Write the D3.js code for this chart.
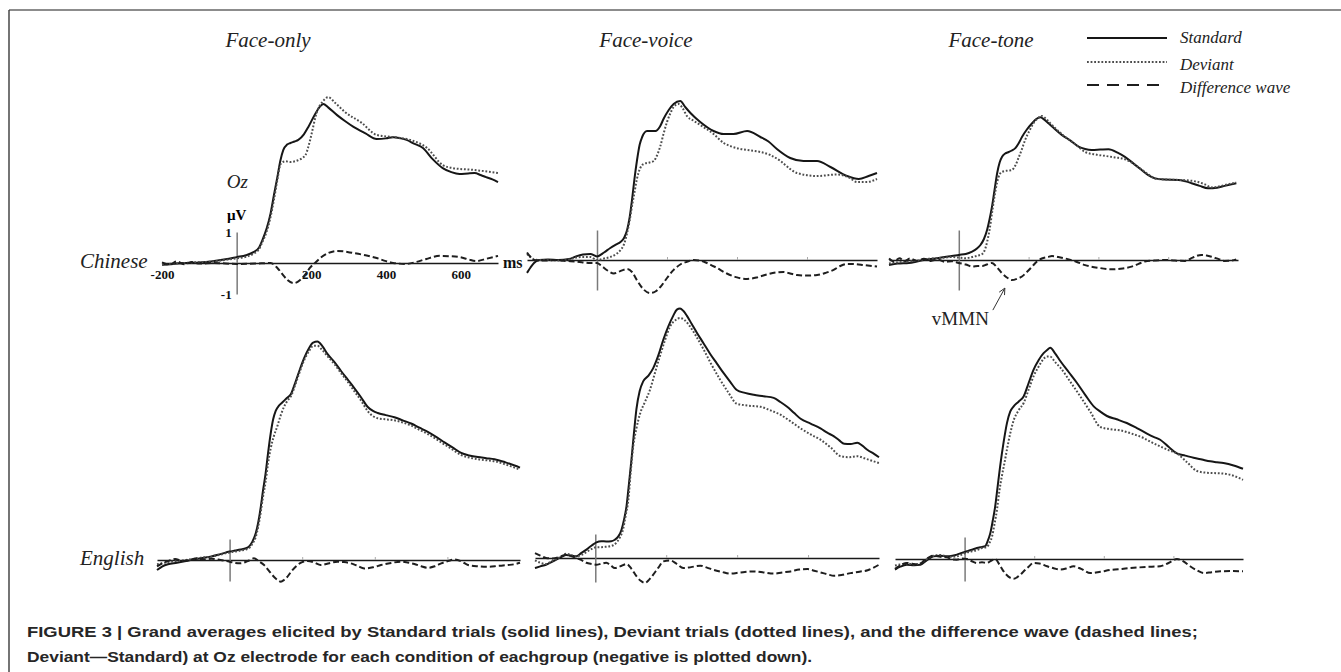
<!DOCTYPE html>
<html><head><meta charset="utf-8">
<script src="https://cdn.jsdelivr.net/npm/d3@7"></script>
<style>body{margin:0;background:#fff}svg{display:block}</style>
</head><body>
<script>
// ---------------- DATA ----------------
const groups = ["Chinese", "English"];
const conditions = ["Face-only", "Face-voice", "Face-tone"];
const seriesNames = ["Standard", "Deviant", "Difference wave"];
const xTickLabels = [-200, 200, 400, 600];
const yTickLabels = [1, -1];
const timeRanges = [[-200,700],[-200,800],[-200,800],[-200,800],[-170,800],[-200,800]];

// Chinese / Face-only  [ms, µV]
const chFaceOnlyStd = [[-200,-0.06],[-170,-0.03],[-140,0.0],[-100,0.02],[-69,0.05],[-30,0.12],[0,0.19],[25,0.25],[45,0.35],[60,0.5],[69,0.74],[80,1.1],[91,1.61],[100,2.2],[109,2.77],[117,3.3],[125,3.65],[135,3.82],[144,3.87],[155,3.92],[165,3.97],[180,4.15],[192,4.39],[210,4.8],[224,5.06],[232,5.13],[245,5.02],[269,4.77],[290,4.58],[313,4.39],[345,4.18],[375,4.0],[400,4.02],[419,4.06],[440,4.02],[455,3.97],[475,3.85],[499,3.71],[525,3.35],[552,3.06],[575,2.93],[597,2.87],[620,2.89],[637,2.9],[655,2.83],[668,2.77],[685,2.7],[700,2.61]];
const chFaceOnlyDev = [[-200,-0.06],[-170,-0.02],[-140,0.0],[-100,0.03],[-69,0.04],[-30,0.1],[0,0.15],[25,0.2],[45,0.3],[60,0.45],[69,0.68],[80,1.0],[91,1.5],[100,2.05],[109,2.68],[118,3.2],[130,3.28],[144,3.26],[165,3.32],[184,3.48],[192,3.75],[200,4.13],[214,4.84],[230,5.2],[245,5.35],[265,5.15],[290,4.87],[335,4.52],[375,4.13],[420,4.06],[465,3.97],[510,3.71],[552,3.16],[580,3.06],[637,3.0],[700,2.9]];
const chFaceOnlyDiff = [[-200,0.02],[-180,-0.05],[-160,0.05],[-140,-0.04],[-120,0.03],[-100,-0.02],[-60,0.0],[0,-0.03],[50,-0.02],[91,0.0],[109,-0.16],[125,-0.4],[136,-0.55],[153,-0.65],[170,-0.55],[185,-0.35],[196,-0.16],[210,0.0],[224,0.16],[245,0.32],[269,0.39],[313,0.32],[345,0.25],[375,0.16],[400,0.06],[419,0.0],[455,-0.03],[480,0.03],[508,0.13],[544,0.23],[570,0.22],[597,0.19],[620,0.12],[641,0.06],[670,0.14],[700,0.23]];

// Chinese / Face-voice
const chFaceVoiceStd = [[-200,-0.43],[-190,-0.25],[-180,-0.1],[-165,0.0],[-140,0.02],[-110,0.0],[-80,0.03],[-60,0.12],[-40,0.18],[-19,0.2],[0,0.12],[20,0.25],[38,0.4],[55,0.52],[67,0.6],[78,0.75],[86,1.0],[93,1.4],[100,2.0],[107,2.7],[114,3.3],[122,3.85],[129,4.1],[143,4.3],[167,4.3],[180,4.45],[190,4.7],[205,5.0],[219,5.2],[238,5.3],[252,5.1],[267,4.9],[295,4.6],[333,4.3],[362,4.2],[390,4.2],[429,4.3],[467,4.1],[490,3.95],[514,3.7],[552,3.4],[590,3.3],[629,3.3],[667,3.1],[714,2.8],[748,2.7],[776,2.8],[800,2.9]];
const chFaceVoiceDev = [[-200,0.2],[-190,0.1],[-180,0.02],[-165,0.0],[-140,0.0],[-110,-0.02],[-80,0.02],[-60,0.08],[-40,0.1],[-19,0.1],[0,0.0],[20,0.05],[38,0.1],[55,0.2],[67,0.33],[78,0.55],[86,0.9],[93,1.3],[100,1.8],[107,2.25],[114,2.7],[123,3.05],[133,3.2],[150,3.25],[162,3.3],[172,3.5],[181,3.8],[190,4.2],[200,4.6],[210,4.9],[219,5.1],[233,5.2],[245,5.05],[257,4.8],[275,4.65],[295,4.5],[333,4.2],[362,3.9],[385,3.78],[410,3.7],[440,3.65],[467,3.6],[495,3.5],[524,3.3],[550,3.05],[571,2.9],[629,2.8],[686,2.85],[720,2.75],[743,2.6],[771,2.6],[800,2.7]];
const chFaceVoiceDiff = [[-200,0.25],[-190,0.1],[-180,0.0],[-150,-0.02],[-120,0.0],[-90,-0.03],[-60,-0.05],[-19,-0.1],[0,-0.1],[10,-0.17],[30,-0.35],[48,-0.45],[65,-0.38],[86,-0.3],[100,-0.4],[114,-0.67],[133,-0.98],[152,-1.1],[167,-1.05],[181,-0.9],[200,-0.6],[219,-0.33],[238,-0.15],[257,-0.06],[276,0.0],[295,-0.02],[314,-0.1],[340,-0.25],[371,-0.45],[400,-0.58],[429,-0.63],[457,-0.58],[486,-0.48],[510,-0.42],[533,-0.4],[552,-0.45],[571,-0.5],[600,-0.52],[629,-0.5],[655,-0.42],[676,-0.33],[695,-0.2],[714,-0.13],[740,-0.14],[762,-0.17],[800,-0.22]];

// Chinese / Face-tone
const chFaceToneStd = [[-200,-0.17],[-175,-0.12],[-143,-0.1],[-120,-0.05],[-100,0.0],[-67,0.05],[-40,0.1],[-20,0.13],[0,0.17],[20,0.2],[38,0.28],[52,0.38],[62,0.5],[72,0.7],[81,1.0],[88,1.35],[95,1.77],[102,2.3],[110,2.9],[117,3.25],[124,3.44],[133,3.55],[143,3.6],[152,3.65],[162,3.73],[172,3.9],[181,4.1],[195,4.35],[210,4.56],[222,4.7],[233,4.76],[245,4.68],[257,4.56],[275,4.37],[295,4.17],[320,3.98],[343,3.78],[362,3.7],[381,3.67],[405,3.68],[429,3.69],[455,3.58],[476,3.44],[500,3.22],[524,3.0],[543,2.83],[562,2.72],[590,2.68],[629,2.67],[650,2.62],[667,2.56],[690,2.47],[714,2.39],[740,2.41],[762,2.47],[795,2.56]];
const chFaceToneDev = [[-200,-0.12],[-175,-0.08],[-143,-0.05],[-120,-0.02],[-100,0.02],[-67,0.06],[-40,0.08],[-20,0.1],[0,0.08],[20,0.06],[38,0.1],[55,0.15],[67,0.2],[75,0.35],[81,0.6],[88,1.0],[95,1.55],[102,2.1],[110,2.6],[117,2.85],[124,2.94],[140,2.98],[152,3.0],[162,3.15],[171,3.4],[181,3.7],[190,4.0],[202,4.3],[214,4.56],[226,4.72],[238,4.8],[252,4.68],[267,4.5],[285,4.3],[305,4.1],[335,3.85],[362,3.6],[390,3.52],[419,3.47],[448,3.42],[476,3.36],[495,3.25],[514,3.1],[540,2.88],[562,2.72],[595,2.68],[629,2.67],[660,2.65],[686,2.6],[705,2.52],[724,2.42],[745,2.45],[762,2.5],[795,2.58]];
const chFaceToneDiff = [[-200,0.05],[-185,-0.05],[-170,0.06],[-155,-0.04],[-140,0.05],[-120,-0.03],[-100,0.04],[-80,-0.03],[-60,0.02],[-40,-0.06],[-20,-0.04],[0,-0.1],[20,-0.15],[38,-0.22],[55,-0.2],[67,-0.2],[80,-0.15],[95,-0.1],[110,-0.25],[124,-0.44],[140,-0.6],[152,-0.67],[168,-0.62],[181,-0.55],[195,-0.4],[210,-0.22],[224,-0.05],[238,0.05],[255,0.1],[267,0.13],[285,0.1],[305,0.05],[335,-0.05],[362,-0.17],[400,-0.26],[438,-0.31],[470,-0.28],[495,-0.22],[515,-0.13],[533,-0.05],[560,-0.02],[590,0.0],[620,-0.02],[648,-0.03],[670,0.08],[695,0.17],[710,0.15],[724,0.11],[745,0.03],[762,-0.03],[780,-0.02],[795,0.02]];

// English / Face-only
const enFaceOnlyStd = [[-200,-0.48],[-185,-0.3],[-170,-0.2],[-145,-0.13],[-120,-0.05],[-99,0.03],[-75,0.1],[-52,0.16],[-25,0.28],[0,0.4],[15,0.45],[30,0.5],[45,0.56],[53,0.63],[62,0.85],[72,1.27],[79,1.8],[86,2.54],[92,3.3],[99,4.1],[106,5.1],[113,6.0],[120,6.7],[127,7.1],[136,7.35],[145,7.5],[157,7.7],[169,7.9],[180,8.4],[192,9.0],[205,9.6],[219,10.1],[230,10.35],[242,10.4],[255,10.2],[270,9.8],[290,9.4],[307,9.0],[325,8.6],[343,8.2],[362,7.75],[380,7.3],[395,7.1],[408,7.0],[430,6.9],[454,6.8],[477,6.65],[500,6.5],[523,6.3],[546,6.1],[570,5.85],[592,5.6],[615,5.35],[638,5.1],[660,4.98],[684,4.9],[707,4.85],[730,4.8],[760,4.65],[785,4.5],[800,4.4]];
const enFaceOnlyDev = [[-200,-0.2],[-185,-0.15],[-170,-0.1],[-145,-0.05],[-120,0.0],[-99,0.05],[-75,0.12],[-52,0.16],[-25,0.26],[0,0.36],[15,0.4],[30,0.45],[45,0.5],[53,0.55],[62,0.75],[72,1.1],[79,1.6],[86,2.3],[92,3.0],[99,3.7],[106,4.6],[113,5.3],[122,5.9],[132,6.4],[141,6.9],[150,7.3],[160,7.6],[169,7.8],[180,8.3],[192,8.9],[205,9.5],[219,9.95],[230,10.2],[242,10.2],[255,10.0],[270,9.7],[290,9.3],[307,8.9],[325,8.5],[343,8.05],[362,7.6],[380,7.1],[395,6.85],[408,6.75],[430,6.7],[454,6.65],[477,6.55],[500,6.4],[523,6.2],[546,6.0],[570,5.75],[592,5.5],[615,5.25],[638,5.0],[660,4.88],[684,4.8],[707,4.75],[730,4.7],[760,4.55],[785,4.4],[800,4.3]];
const enFaceOnlyDiff = [[-200,-0.3],[-185,-0.15],[-170,-0.05],[-150,0.05],[-130,-0.05],[-110,0.0],[-90,0.08],[-70,0.02],[-50,0.06],[-25,0.0],[0,-0.08],[15,-0.14],[30,-0.16],[50,-0.05],[67,0.08],[80,-0.05],[95,-0.24],[110,-0.55],[122,-0.8],[132,-0.95],[141,-1.03],[150,-0.95],[159,-0.8],[172,-0.5],[187,-0.24],[200,-0.1],[215,-0.05],[233,-0.12],[251,-0.24],[275,-0.15],[297,-0.08],[315,-0.1],[334,-0.16],[352,-0.28],[371,-0.4],[395,-0.35],[417,-0.24],[445,-0.14],[472,-0.08],[490,-0.12],[509,-0.19],[528,-0.3],[546,-0.37],[565,-0.3],[583,-0.16],[602,-0.05],[620,0.03],[640,-0.08],[657,-0.24],[685,-0.3],[712,-0.32],[740,-0.28],[767,-0.24],[785,-0.2],[800,-0.13]];

// English / Face-voice
const enFaceVoiceStd = [[-170,-0.42],[-155,-0.35],[-139,-0.28],[-125,-0.18],[-110,-0.07],[-95,0.05],[-82,0.12],[-68,0.1],[-54,0.07],[-40,0.2],[-25,0.35],[-10,0.52],[3,0.65],[17,0.7],[31,0.69],[45,0.7],[55,0.76],[65,0.9],[74,1.18],[81,1.6],[88,2.15],[95,3.1],[102,4.1],[109,5.2],[116,6.2],[125,6.95],[135,7.36],[150,7.6],[163,7.9],[178,8.45],[192,9.1],[206,9.65],[220,10.1],[230,10.35],[239,10.4],[248,10.3],[258,10.1],[272,9.75],[286,9.4],[305,8.95],[324,8.5],[343,8.1],[362,7.7],[380,7.35],[399,7.0],[422,6.88],[447,6.8],[475,6.74],[503,6.67],[522,6.5],[541,6.3],[560,6.05],[579,5.8],[607,5.6],[635,5.4],[654,5.22],[673,5.07],[688,4.9],[702,4.76],[720,4.75],[739,4.8],[753,4.68],[768,4.5],[785,4.35],[800,4.2]];
const enFaceVoiceDev = [[-170,-0.1],[-155,-0.2],[-139,-0.25],[-125,-0.15],[-110,-0.05],[-95,0.08],[-82,0.18],[-68,0.12],[-54,0.06],[-40,0.12],[-25,0.25],[-10,0.38],[3,0.45],[17,0.45],[31,0.47],[45,0.5],[59,0.63],[69,0.85],[78,1.18],[86,1.8],[93,2.4],[100,3.6],[107,4.65],[116,5.4],[126,6.0],[140,6.5],[154,7.0],[168,7.7],[182,8.4],[196,9.05],[211,9.65],[225,9.9],[239,10.0],[253,9.9],[267,9.65],[286,9.2],[305,8.7],[328,8.05],[352,7.43],[375,6.9],[399,6.43],[430,6.35],[466,6.3],[494,6.15],[522,5.97],[550,5.7],[579,5.4],[607,5.15],[635,4.93],[664,4.6],[692,4.24],[716,4.2],[739,4.24],[760,4.15],[780,4.05],[800,3.96]];
const enFaceVoiceDiff = [[-170,0.2],[-155,0.1],[-139,0.0],[-120,-0.02],[-100,0.05],[-82,0.14],[-68,0.08],[-54,0.0],[-40,-0.08],[-25,-0.2],[-10,-0.25],[3,-0.28],[17,-0.24],[31,-0.2],[43,-0.3],[55,-0.42],[70,-0.35],[88,-0.25],[102,-0.45],[116,-0.76],[128,-0.95],[140,-1.04],[152,-0.9],[163,-0.7],[178,-0.4],[192,-0.14],[211,-0.1],[230,-0.25],[248,-0.42],[270,-0.38],[296,-0.32],[315,-0.4],[333,-0.49],[357,-0.58],[380,-0.65],[410,-0.6],[447,-0.56],[475,-0.6],[503,-0.65],[527,-0.6],[551,-0.56],[575,-0.48],[598,-0.46],[617,-0.53],[635,-0.6],[655,-0.68],[673,-0.74],[697,-0.7],[720,-0.63],[745,-0.57],[768,-0.51],[785,-0.4],[800,-0.28]];

// English / Face-tone
const enFaceToneStd = [[-200,-0.48],[-185,-0.35],[-166,-0.26],[-145,-0.28],[-127,-0.26],[-108,-0.05],[-89,0.12],[-70,0.15],[-51,0.12],[-35,0.15],[-22,0.2],[-8,0.28],[7,0.35],[21,0.42],[35,0.5],[50,0.55],[59,0.58],[66,0.8],[74,1.18],[81,1.75],[88,2.4],[95,3.3],[102,4.2],[112,5.3],[122,6.2],[131,6.7],[141,6.94],[155,7.15],[170,7.4],[184,8.0],[198,8.6],[213,9.05],[227,9.36],[237,9.5],[246,9.6],[260,9.35],[275,9.0],[299,8.5],[323,8.0],[347,7.45],[371,6.94],[390,6.7],[409,6.5],[437,6.35],[466,6.18],[495,5.95],[524,5.7],[543,5.55],[562,5.42],[586,5.1],[610,4.8],[634,4.7],[658,4.6],[682,4.52],[706,4.44],[725,4.4],[744,4.36],[773,4.25],[800,4.1]];
const enFaceToneDev = [[-200,-0.3],[-185,-0.25],[-166,-0.2],[-145,-0.25],[-127,-0.2],[-108,0.0],[-89,0.15],[-70,0.18],[-51,0.12],[-35,0.1],[-22,0.12],[-8,0.2],[7,0.3],[21,0.35],[35,0.4],[50,0.5],[64,0.55],[72,0.75],[79,1.03],[86,1.6],[93,2.24],[100,3.1],[107,3.76],[115,4.4],[122,5.0],[131,5.7],[141,6.3],[155,6.75],[170,7.1],[184,7.7],[198,8.3],[213,8.75],[227,9.1],[237,9.2],[246,9.2],[260,8.95],[275,8.7],[304,8.05],[332,7.4],[361,6.7],[390,6.0],[419,5.9],[447,5.85],[480,5.7],[514,5.5],[538,5.3],[562,5.12],[586,4.95],[610,4.8],[639,4.4],[668,4.0],[697,3.92],[725,3.9],[744,3.88],[763,3.83],[783,3.72],[800,3.6]];
const enFaceToneDiff = [[-200,-0.45],[-185,-0.3],[-166,-0.18],[-150,-0.22],[-130,-0.25],[-115,-0.05],[-100,0.1],[-89,0.15],[-70,0.1],[-51,0.08],[-35,-0.02],[-22,-0.03],[-8,0.02],[7,0.0],[21,-0.1],[35,-0.18],[50,-0.15],[64,-0.18],[76,-0.08],[88,0.0],[100,-0.25],[112,-0.56],[126,-0.8],[141,-0.9],[155,-0.78],[170,-0.56],[184,-0.35],[198,-0.18],[215,-0.2],[237,-0.33],[256,-0.42],[275,-0.48],[295,-0.42],[313,-0.33],[335,-0.45],[361,-0.64],[390,-0.58],[419,-0.5],[452,-0.45],[486,-0.4],[524,-0.36],[562,-0.33],[586,-0.18],[610,0.0],[630,-0.12],[648,-0.33],[668,-0.52],[687,-0.64],[710,-0.6],[735,-0.56],[770,-0.55],[800,-0.56]];

const panelSeries = [
  [chFaceOnlyStd, chFaceOnlyDev, chFaceOnlyDiff],
  [chFaceVoiceStd, chFaceVoiceDev, chFaceVoiceDiff],
  [chFaceToneStd, chFaceToneDev, chFaceToneDiff],
  [enFaceOnlyStd, enFaceOnlyDev, enFaceOnlyDiff],
  [enFaceVoiceStd, enFaceVoiceDev, enFaceVoiceDiff],
  [enFaceToneStd, enFaceToneDev, enFaceToneDiff]
];

// ---------------- LAYOUT ----------------
const W = 1341, H = 672;
const panelLayout = [
  {x0:162, x1:498, base:263, k:31},
  {x0:527, x1:877, base:260, k:30},
  {x0:889, x1:1238, base:260, k:30},
  {x0:157, x1:520, base:560, k:21},
  {x0:535, x1:879, base:558, k:24},
  {x0:895, x1:1243, base:559, k:22}
];
const serif = "'Liberation Serif','Times New Roman',serif";
const styles = [
  {stroke:"#161616", width:2, dash:null},
  {stroke:"#4d4d4d", width:2, dash:"1.8,1.8"},
  {stroke:"#1e1e1e", width:2, dash:"6,3"}
];
const plain = d => String(d);   // hyphen-minus like the original labels

const svg = d3.select("body").append("svg").attr("width", W).attr("height", H);

// frame
svg.append("line").attr("x1",9).attr("x2",W).attr("y1",10).attr("y2",10).attr("stroke","#8c8c8c").attr("stroke-width",2);
svg.append("line").attr("x1",9).attr("x2",9).attr("y1",10).attr("y2",H).attr("stroke","#3a3a3a").attr("stroke-width",1.4);

panelLayout.forEach((p, i) => {
  const g = svg.append("g");
  const x = d3.scaleLinear().domain(timeRanges[i]).range([p.x0, p.x1]);
  const y = d3.scaleLinear().domain([0, 1]).range([p.base, p.base - p.k]);

  // x axis
  const xa = d3.axisBottom(x).tickSizeOuter(0);
  if (i === 0) {
    xa.tickValues(xTickLabels).tickSizeInner(0).tickPadding(7).tickFormat(plain);
  } else {
    xa.tickValues([200,400,600]).tickSizeInner(-3).tickFormat("");
  }
  const xg = g.append("g").attr("transform", `translate(0,${p.base})`).call(xa);
  xg.select(".domain").attr("stroke","#1a1a1a").attr("stroke-width",1.4);
  xg.selectAll(".tick line").attr("stroke","#aaa");
  xg.selectAll(".tick text").attr("font-family", serif).attr("font-weight","bold").attr("font-size",13).attr("fill","#111");

  // y axis at t = 0 spanning ±1 µV
  const ya = d3.axisLeft(y.copy().domain([-1,1]).range([y(-1), y(1)])).tickSizeOuter(0);
  if (i === 0) ya.tickValues(yTickLabels).tickSizeInner(0).tickPadding(5).tickFormat(plain);
  else ya.tickValues([]);
  const yg = g.append("g").attr("transform", `translate(${x(0)},0)`).call(ya);
  yg.select(".domain").attr("stroke","#7a7a7a").attr("stroke-width",1.5);
  yg.selectAll(".tick text").attr("font-family", serif).attr("font-weight","bold").attr("font-size",13).attr("fill","#111");

  // waves
  const line = d3.line().x(d => x(d[0])).y(d => y(d[1])).curve(d3.curveMonotoneX);
  panelSeries[i].forEach((s, j) => {
    g.append("path").datum(s).attr("d", line).attr("fill","none")
      .attr("stroke", styles[j].stroke).attr("stroke-width", styles[j].width)
      .attr("stroke-dasharray", styles[j].dash).attr("stroke-linejoin","round");
  });

  if (i === 0) {
    g.append("text").attr("x", x(0)).attr("y", y(1) - 12).attr("text-anchor","middle")
      .attr("font-family", serif).attr("font-weight","bold").attr("font-size",15).text("µV");
    g.append("text").attr("x", x(0) - 10).attr("y", y(1) - 44)
      .attr("font-family", serif).attr("font-style","italic").attr("font-size",19).attr("fill","#222").text("Oz");
    g.append("text").attr("x", p.x1 + 5).attr("y", p.base + 5)
      .attr("font-family", serif).attr("font-weight","bold").attr("font-size",16).attr("fill","#111").text("ms");
  }
  if (i === 2) {
    // vMMN annotation pointing at the difference-wave trough
    const tx = x(152), ty = y(-0.67);
    svg.append("text").attr("x", tx - 80).attr("y", ty + 45)
      .attr("font-family", serif).attr("font-size",19).attr("fill","#222").text("vMMN");
    const ax1 = tx - 19, ay1 = ty + 30, ax2 = tx - 7, ay2 = ty + 8;
    svg.append("line").attr("x1",ax1).attr("y1",ay1).attr("x2",ax2).attr("y2",ay2).attr("stroke","#333").attr("stroke-width",1);
    const ang = Math.atan2(ay2 - ay1, ax2 - ax1);
    [0.45, -0.45].forEach(a => {
      svg.append("line").attr("x1",ax2).attr("y1",ay2)
        .attr("x2", ax2 - 7*Math.cos(ang + a)).attr("y2", ay2 - 7*Math.sin(ang + a))
        .attr("stroke","#333").attr("stroke-width",1);
    });
  }
});

// condition titles
const titleX = [268, 646, 991];
conditions.forEach((c, i) => {
  svg.append("text").attr("x", titleX[i]).attr("y", 47).attr("text-anchor","middle")
    .attr("font-family", serif).attr("font-style","italic").attr("font-size",21).attr("fill","#222").text(c);
});

// group labels
const groupY = [268, 565];
groups.forEach((gname, i) => {
  svg.append("text").attr("x", 80).attr("y", groupY[i])
    .attr("font-family", serif).attr("font-style","italic").attr("font-size",21).attr("fill","#222").text(gname);
});

// legend
const legY = [38, 62, 85];
const legTextY = [43, 70, 93];
seriesNames.forEach((n, j) => {
  svg.append("line").attr("x1",1087).attr("x2",1167).attr("y1",legY[j]).attr("y2",legY[j])
    .attr("stroke", styles[j].stroke).attr("stroke-width", 2)
    .attr("stroke-dasharray", j === 2 ? "12,8" : styles[j].dash);
  svg.append("text").attr("x", 1180).attr("y", legTextY[j])
    .attr("font-family", serif).attr("font-style","italic").attr("font-size",17).attr("fill","#222").text(n);
});

// caption
const capFont = "'Liberation Sans',Arial,Helvetica,sans-serif";
svg.append("text").attr("x",27).attr("y",637).attr("font-family",capFont).attr("font-weight","bold").attr("font-size",15)
  .attr("fill","#262626").attr("textLength",1171).attr("lengthAdjust","spacingAndGlyphs")
  .text("FIGURE 3 | Grand averages elicited by Standard trials (solid lines), Deviant trials (dotted lines), and the difference wave (dashed lines;");
svg.append("text").attr("x",27).attr("y",662).attr("font-family",capFont).attr("font-weight","bold").attr("font-size",15)
  .attr("fill","#262626").attr("textLength",785).attr("lengthAdjust","spacingAndGlyphs")
  .text("Deviant\u2014Standard) at Oz electrode for each condition of eachgroup (negative is plotted down).");
</script>
</body></html>
